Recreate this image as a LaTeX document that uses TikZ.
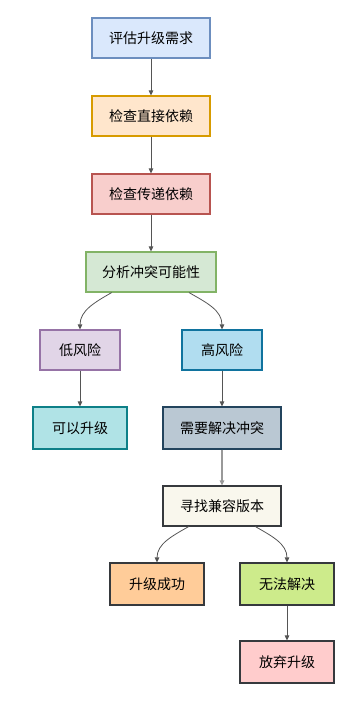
\documentclass[tikz,border=0pt]{standalone}
\usepackage{fontspec}
\setmainfont{Noto Sans CJK SC}
\usetikzlibrary{arrows.meta,calc}
\definecolor{f1}{HTML}{DAE8FC}\definecolor{d1}{HTML}{6C8EBF}
\definecolor{f2}{HTML}{FFE6CC}\definecolor{d2}{HTML}{D79B00}
\definecolor{f3}{HTML}{F8CECC}\definecolor{d3}{HTML}{B85450}
\definecolor{f4}{HTML}{D5E8D4}\definecolor{d4}{HTML}{82B366}
\definecolor{f5}{HTML}{E1D5E7}\definecolor{d5}{HTML}{9673A6}
\definecolor{f6}{HTML}{B1DDF0}\definecolor{d6}{HTML}{10739E}
\definecolor{f7}{HTML}{B0E3E6}\definecolor{d7}{HTML}{0E8088}
\definecolor{f8}{HTML}{BAC8D3}\definecolor{d8}{HTML}{23445D}
\definecolor{f9}{HTML}{F9F7ED}\definecolor{dk}{HTML}{36393D}
\definecolor{f10}{HTML}{FFCC99}
\definecolor{f11}{HTML}{CDEB8B}
\definecolor{f12}{HTML}{FFCCCC}
\definecolor{edge}{HTML}{555555}
\begin{document}
\begin{tikzpicture}[x=1pt,y=-1pt,
  box/.style={draw,line width=1.1pt,minimum height=40pt,inner sep=0pt,font=\fontsize{14}{16}\selectfont,text=black},
  arr/.style={draw=edge,line width=0.8pt,-{Triangle[length=5pt,width=4.5pt]}}]
\useasboundingbox (0,0) rectangle (360,701);
\node[box,fill=f1,draw=d1,minimum width=118pt] (n1) at (151,38) {评估升级需求};
\node[box,fill=f2,draw=d2,minimum width=118pt] (n2) at (151,116) {检查直接依赖};
\node[box,fill=f3,draw=d3,minimum width=118pt] (n3) at (151,194) {检查传递依赖};
\node[box,fill=f4,draw=d4,minimum width=130pt] (n4) at (151,272) {分析冲突可能性};
\node[box,fill=f5,draw=d5,minimum width=80pt] (n5) at (80,350) {低风险};
\node[box,fill=f6,draw=d6,minimum width=80pt] (n6) at (222,350) {高风险};
\node[box,fill=f7,draw=d7,minimum width=94pt,minimum height=42pt] (n7) at (80,428) {可以升级};
\node[box,fill=f8,draw=d8,minimum width=118pt,minimum height=42pt] (n8) at (222,428) {需要解决冲突};
\node[box,fill=f9,draw=dk,minimum width=118pt] (n9) at (222,506) {寻找兼容版本};
\node[box,fill=f10,draw=dk,minimum width=94pt,minimum height=42pt] (n10) at (157,584) {升级成功};
\node[box,fill=f11,draw=dk,minimum width=94pt,minimum height=42pt] (n11) at (287,584) {无法解决};
\node[box,fill=f12,draw=dk,minimum width=94pt,minimum height=42pt] (n12) at (287,662) {放弃升级};
\draw[arr] (n1) -- (n2);
\draw[arr] (n2) -- (n3);
\draw[arr] (n3) -- (n4);
\draw[arr] ($(n4.south west)!0.2!(n4.south east)$) to[out=210,in=90] (n5.north);
\draw[arr] ($(n4.south west)!0.79!(n4.south east)$) to[out=-30,in=90] (n6.north);
\draw[arr] (n5) -- (n7);
\draw[arr] (n6) -- (n8);
\draw[arr,draw=gray!80,line width=1.1pt] (n8) -- (n9);
\draw[arr] ($(n9.south west)!0.22!(n9.south east)$) to[out=210,in=90] (n10.north);
\draw[arr] ($(n9.south west)!0.78!(n9.south east)$) to[out=-30,in=90] (n11.north);
\draw[arr] (n11) -- (n12);
\end{tikzpicture}
\end{document}
